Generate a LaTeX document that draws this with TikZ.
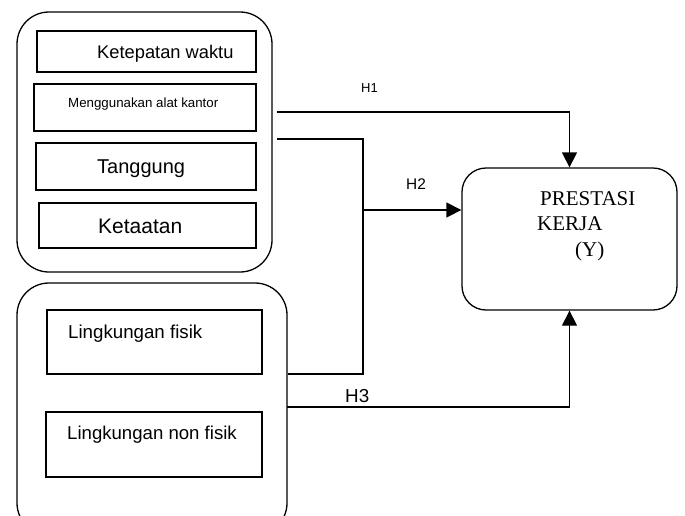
\documentclass[tikz,border=0pt]{standalone}
\usepackage{fontspec}
\setmainfont{Liberation Serif}
\setsansfont{Liberation Sans}
\usetikzlibrary{shapes,arrows.meta,positioning}
\tikzstyle{group} = [rectangle, draw=black, line width=1.3pt, rounded corners=32pt, inner sep=0pt]
\tikzstyle{item} = [rectangle, draw=black, line width=1.3pt, inner sep=0pt]
\tikzstyle{result} = [rectangle, draw=black, line width=1.3pt, rounded corners=24pt, inner sep=0pt]
\tikzstyle{textonly} = [draw=none, fill=none, inner sep=0pt, anchor=base west]
\tikzstyle{tline} = [draw, line width=1.3pt]
\tikzstyle{tedge} = [draw, line width=1.3pt, -{Triangle[length=15pt,width=15pt]}]

\begin{document}
\begin{tikzpicture}[x=1pt, y=-1pt]
\clip (0,0) rectangle (685,515);

% groups =============================
\node[group, minimum width=255pt, minimum height=260pt] (grpA) at (144.5,142) {};
\node[group, minimum width=270pt, minimum height=252pt] (grpB) at (152,409) {};
\node[result, minimum width=215pt, minimum height=142pt] (yk) at (569.5,239) {};

% items
\node[item, minimum width=219pt, minimum height=41pt] (k1) at (146.5,51.5) {};
\node[item, minimum width=222pt, minimum height=47pt] (k2) at (145,107.5) {};
\node[item, minimum width=220pt, minimum height=47pt] (k3) at (146,166.5) {};
\node[item, minimum width=217pt, minimum height=45pt] (k4) at (147.5,225.5) {};
\node[item, minimum width=215pt, minimum height=64pt] (l1) at (154.5,342) {};
\node[item, minimum width=216pt, minimum height=65pt] (l2) at (154,444.5) {};

% texts
\node[textonly, font=\sffamily\fontsize{18.3}{22}\selectfont] (t1) at (97,58) {Ketepatan waktu};
\node[textonly, font=\sffamily\fontsize{13.3}{16}\selectfont] (t2) at (68,107) {Menggunakan alat kantor};
\node[textonly, font=\sffamily\fontsize{20}{24}\selectfont] (t3) at (97,173) {Tanggung};
\node[textonly, font=\sffamily\fontsize{21}{25}\selectfont] (t4) at (98,233) {Ketaatan};
\node[textonly, font=\sffamily\fontsize{18.7}{22}\selectfont] (t5) at (68,338) {Lingkungan fisik};
\node[textonly, font=\sffamily\fontsize{18.6}{22}\selectfont] (t6) at (67,439) {Lingkungan non fisik};
\node[textonly, font=\rmfamily\fontsize{21}{25}\selectfont] (y1) at (540,205) {PRESTASI};
\node[textonly, font=\rmfamily\fontsize{21}{25}\selectfont] (y2) at (537,230) {KERJA};
\node[textonly, font=\rmfamily\fontsize{21}{25}\selectfont] (y3) at (575,256) {(Y)};

% hypothesis labels
\node[textonly, font=\sffamily\fontsize{13}{16}\selectfont] (h1) at (361,92) {H1};
\node[textonly, font=\sffamily\fontsize{15.4}{18}\selectfont] (h2) at (406,189) {H2};
\node[textonly, font=\sffamily\fontsize{18.8}{22}\selectfont] (h3) at (345,402) {H3};

% edges
\coordinate (h1s) at (277,112);
\coordinate (h2s) at (277,139);
\coordinate (jn) at (363,374);
\coordinate (h2m) at (363,210);
\coordinate (h3s) at (287,407);

\path[tedge] (h1s) -| (yk.north);
\path[tline] (h2s) -| (jn) -- (grpB.east |- jn);
\path[tedge] (h2m) -- (h2m -| yk.west);
\path[tedge] (h3s) -| (yk.south);

\end{tikzpicture}
\end{document}
